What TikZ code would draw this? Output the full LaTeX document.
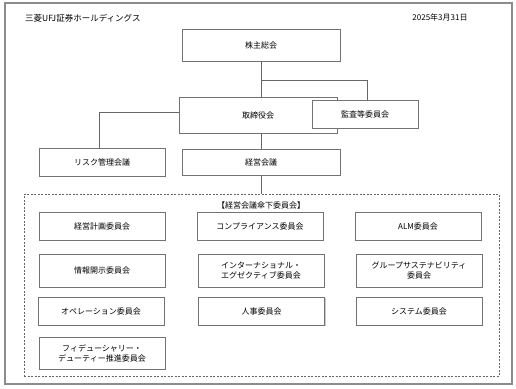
\documentclass[tikz,border=0pt]{standalone}
\usepackage{fontspec}
\setmainfont{Noto Sans CJK JP}
\usetikzlibrary{positioning, shadows}

\begin{document}
\begin{tikzpicture}[
                x=1pt, y=-1pt,
                box/.style={draw=black!55, rectangle, align=center, fill=white, font=\fontsize{8}{10}\selectfont, inner sep=1pt, line width=0.7pt, drop shadow={shadow xshift=1pt, shadow yshift=-1pt, fill=black!35, opacity=0.6}},
                bigbox/.style={box, minimum width=158pt},
                combox/.style={box, minimum width=126pt},
                frame/.style={draw=black!45, line width=1.4pt},
                group/.style={draw=black!60, dash pattern=on 2pt off 1.5pt, line width=0.6pt, rectangle, minimum width=475pt, minimum height=182pt},
                link/.style={draw=black!60, line width=0.7pt}
            ]
            \useasboundingbox (0,0) rectangle (516,388);
            \draw[frame] (5,3) rectangle (512,384);
            % Title and date
            \node[anchor=west, font=\fontsize{8.5}{10}\selectfont, inner sep=0pt] (title) at (25,18) {三菱UFJ証券ホールディングス};
            \node[font=\fontsize{8}{10}\selectfont, inner sep=0pt] (date) at (440,17) {2025年3月31日};

            % Nodes
            \node[group] (sanka) at (261.5,285) {};
            \node[font=\fontsize{8}{10}\selectfont, inner sep=0pt] (sankalabel) at (261,205) {【経営会議傘下委員会】};
            \node[bigbox, minimum height=32pt] (kabunushi) at (261,45) {株主総会};
            \node[bigbox, minimum height=36pt] (torishimari) at (258,115) {取締役会};
            \node[box, minimum width=106pt, minimum height=28pt] (kansa) at (365,114) {監査等委員会};
            \node[combox, minimum height=28pt] (risk) at (102,162) {リスク管理会議};
            \node[bigbox, minimum height=26pt] (keiei) at (261,162) {経営会議};

            % Committees
            \node[combox, minimum height=28pt] (keikaku) at (102,226) {経営計画委員会};
            \node[combox, minimum height=28pt] (compliance) at (260,226) {コンプライアンス委員会};
            \node[combox, minimum height=28pt] (alm) at (418,226) {ALM委員会};
            \node[combox, minimum height=33pt] (joho) at (102,270.5) {情報開示委員会};
            \node[combox, minimum height=33pt] (intl) at (261,270.5) {インターナショナル・\\エグゼクティブ委員会};
            \node[combox, minimum height=33pt] (sustain) at (419,270.5) {グループサステナビリティ\\委員会};
            \node[combox, minimum height=28pt] (operation) at (101,311) {オペレーション委員会};
            \node[combox, minimum height=28pt] (jinji) at (261.5,311) {人事委員会};
            \node[combox, minimum height=28pt] (system) at (419,311) {システム委員会};
            \node[combox, minimum height=32pt] (fiduciary) at (102,353) {フィデューシャリー・\\デューティー推進委員会};

            % Edges
            \coordinate (branch) at (261,80);
            \coordinate (kansatop) at ([xshift=2pt]kansa.north);
            \coordinate (risktop) at ([xshift=-3pt]risk.north);
            \draw[link] (kabunushi.south) -- (kabunushi.south |- torishimari.north);
            \draw[link] (branch) -| (kansatop);
            \draw[link] ([yshift=3pt]torishimari.west) -| (risktop);
            \draw[link] (keiei.north |- torishimari.south) -- (keiei.north);
            \draw[link] (keiei.south) -- (sanka.north -| keiei.south);
            \end{tikzpicture}
\end{document}
